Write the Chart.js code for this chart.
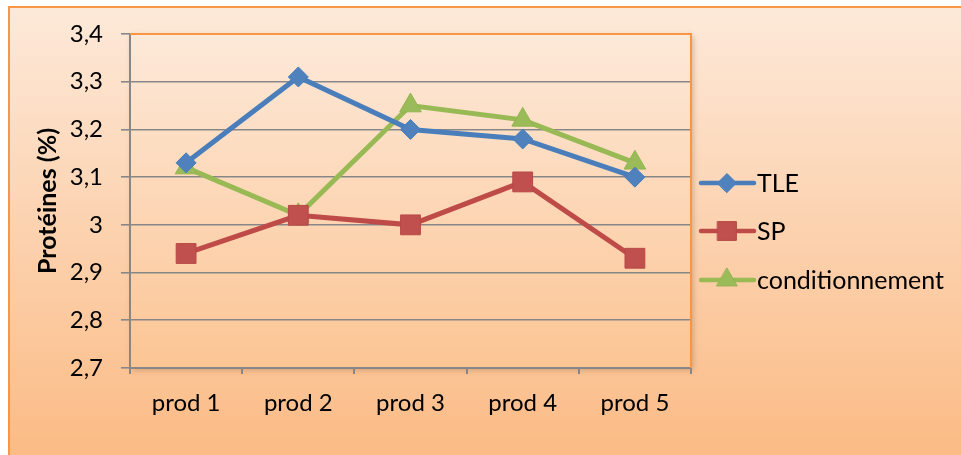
<!DOCTYPE html>
<html>
<head>
<meta charset="utf-8">
<script src="https://cdn.jsdelivr.net/npm/chart.js@4/dist/chart.umd.min.js"></script>
<style>
  html, body { margin: 0; padding: 0; background: #ffffff; }
  #wrap { width: 961px; height: 455px; position: relative; }
</style>
</head>
<body>
<div id="wrap"><canvas id="c" width="961" height="455"></canvas></div>
<script>
// Protein content per product and processing step
const categories = ['prod 1', 'prod 2', 'prod 3', 'prod 4', 'prod 5'];
const seriesNames = ['TLE', 'SP', 'conditionnement'];
const tleValues = [3.13, 3.31, 3.20, 3.18, 3.10];
const spValues = [2.94, 3.02, 3.00, 3.09, 2.93];
const condValues = [3.12, 3.02, 3.25, 3.22, 3.13];
const yMin = 2.7, yMax = 3.4, yStep = 0.1;
const yTitle = 'Protéines (%)';

const FONT = 'Lato, "Open Sans", sans-serif';
const ORANGE = '#f79646';
const GRID = '#878787';

const styles = [
  { line: '#4a7ebb', fill: '#4f81bd', border: '#4a7ebb', shape: 'rectRot', r: 10 },
  { line: '#be4b48', fill: '#c0504d', border: '#b84845', shape: 'rect', r: 14 },
  { line: '#98b954', fill: '#9bbb59', border: '#93b552', shape: 'triangle', r: 12.5 }
];
const values = [tleValues, spValues, condValues];

// Outer frame with a peach gradient and orange edge
const framePlugin = {
  id: 'frame',
  beforeDraw(chart) {
    const ctx = chart.ctx;
    ctx.save();
    const g = ctx.createLinearGradient(0, 7, 0, 455);
    g.addColorStop(0, '#fde9d9');
    g.addColorStop(1, '#fbbb85');
    ctx.fillStyle = g;
    ctx.fillRect(9, 7, 970, 470);
    ctx.strokeStyle = ORANGE;
    ctx.lineWidth = 2;
    ctx.strokeRect(9, 7, 970, 470);

    // plot area fill with soft shadow
    const a = chart.chartArea;
    ctx.shadowColor = 'rgba(120,80,40,0.35)';
    ctx.shadowBlur = 6;
    ctx.shadowOffsetX = 2;
    ctx.shadowOffsetY = 2;
    const pg = ctx.createLinearGradient(0, a.top, 0, a.bottom);
    pg.addColorStop(0, '#fde9d9');
    pg.addColorStop(1, '#fcc594');
    ctx.fillStyle = pg;
    ctx.fillRect(a.left, a.top, a.right - a.left, a.bottom - a.top);
    ctx.restore();
  },
  afterDatasetsDraw(chart) {
    const ctx = chart.ctx;
    const a = chart.chartArea;
    ctx.save();
    ctx.strokeStyle = ORANGE;
    ctx.lineWidth = 2;
    ctx.beginPath();
    ctx.moveTo(a.left, a.top);
    ctx.lineTo(a.right, a.top);
    ctx.lineTo(a.right, a.bottom);
    ctx.stroke();
    ctx.restore();
  }
};

// Legend at the right: short line with marker, then the series name
const legendPlugin = {
  id: 'sideLegend',
  afterDraw(chart) {
    const ctx = chart.ctx;
    const ys = [183, 231, 280];
    ctx.save();
    chart.data.datasets.forEach((ds, i) => {
      const y = ys[i];
      ctx.strokeStyle = ds.borderColor;
      ctx.lineWidth = 4.5;
      ctx.lineCap = 'round';
      ctx.beginPath();
      ctx.moveTo(701, y);
      ctx.lineTo(754, y);
      ctx.stroke();
      ctx.fillStyle = ds.pointBackgroundColor;
      ctx.strokeStyle = ds.pointBorderColor;
      ctx.lineWidth = ds.pointBorderWidth;
      Chart.helpers.drawPoint(ctx, {
        pointStyle: ds.pointStyle,
        radius: ds.pointRadius * 0.95,
        borderWidth: ds.pointBorderWidth,
        rotation: 0
      }, 727, y);
      ctx.fillStyle = '#000000';
      ctx.font = '25px ' + FONT;
      ctx.textBaseline = 'middle';
      ctx.textAlign = 'left';
      ctx.fillText(ds.label, 757, y + 1);
    });
    ctx.restore();
  }
};

const datasets = seriesNames.map((name, i) => ({
  label: name,
  data: values[i],
  borderColor: styles[i].line,
  borderWidth: 5,
  pointStyle: styles[i].shape,
  pointRadius: styles[i].r,
  pointHoverRadius: styles[i].r,
  pointBackgroundColor: styles[i].fill,
  pointBorderColor: styles[i].border,
  pointBorderWidth: 1,
  tension: 0,
  fill: false
}));

new Chart(document.getElementById('c'), {
  type: 'line',
  data: { labels: categories, datasets },
  options: {
    responsive: false,
    animation: false,
    events: [],
    layout: { padding: { left: 0, top: 34, right: 270, bottom: 0 } },
    plugins: { legend: { display: false }, tooltip: { enabled: false } },
    scales: {
      x: {
        offset: true,
        afterFit(s) { s.height = 87; },
        grid: { display: true, drawOnChartArea: false, drawTicks: true, tickLength: 6, color: GRID, lineWidth: 2, offset: true },
        border: { display: true, color: GRID, width: 2 },
        ticks: { color: '#000000', font: { family: FONT, size: 24 }, padding: 15, maxRotation: 0 }
      },
      y: {
        min: yMin,
        max: yMax,
        afterFit(s) { s.width = 130; },
        ticks: {
          stepSize: yStep,
          color: '#000000',
          font: { family: FONT, size: 24 },
          padding: 18,
          callback(v) { return String(Number(v.toFixed(1))).replace('.', ','); }
        },
        grid: { color: GRID, lineWidth: 1.6, tickLength: 9 },
        border: { display: true, color: GRID, width: 2 },
        title: {
          display: true,
          text: yTitle,
          color: '#000000',
          font: { family: FONT, size: 25, weight: 'bold' },
          padding: { top: 33, bottom: 0 }
        }
      }
    }
  },
  plugins: [framePlugin, legendPlugin]
});
</script>
</body>
</html>
